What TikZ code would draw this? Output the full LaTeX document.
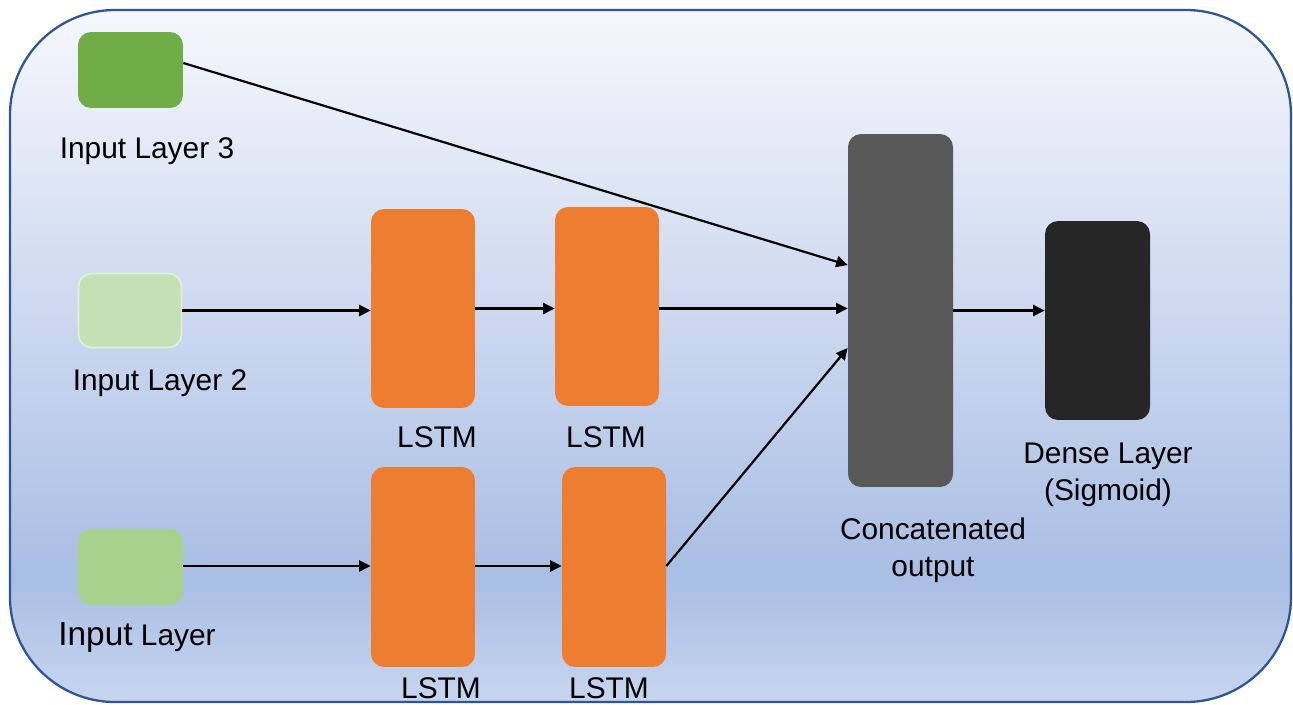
\documentclass[tikz,border=0pt]{standalone}
\usepackage{fontspec}
\setmainfont{Liberation Sans}
\usetikzlibrary{arrows.meta}

\definecolor{bgtop}{HTML}{F5F7FC}
\definecolor{bgmid}{HTML}{A9BEE4}
\definecolor{bgbot}{HTML}{C7D5EF}
\definecolor{frame}{HTML}{2F5597}
\definecolor{inthree}{HTML}{70AD47}
\definecolor{intwo}{HTML}{C5E0B4}
\definecolor{intwoedge}{HTML}{E2F0D9}
\definecolor{inone}{HTML}{A9D18E}
\definecolor{lstmorange}{HTML}{ED7D31}
\definecolor{catgray}{HTML}{595959}
\definecolor{densedark}{HTML}{262626}

% vertical background gradient (stops inside 25bp..75bp span the path)
\pgfdeclareverticalshading{panelshade}{100bp}{%
  color(0bp)=(bgbot); color(25bp)=(bgbot); color(34bp)=(bgmid);
  color(75bp)=(bgtop); color(100bp)=(bgtop)}

\tikzset{
  block/.style={rectangle, rounded corners=0.26cm, inner sep=0pt,
    minimum width=2.1cm, draw=none},
  smallblock/.style={block, minimum height=1.52cm},
  lstmblock/.style={block, fill=lstmorange, minimum width=2.08cm, minimum height=3.98cm},
  lbl/.style={inner sep=0pt, align=center, font=\fontsize{17}{20.8}\selectfont},
  link/.style={line width=1.25pt, -{Triangle[length=0.23cm, width=0.22cm]}},
}

\begin{document}
\begin{tikzpicture}[x=0.02cm, y=-0.02cm]
\useasboundingbox (0,0) rectangle (1293,704);

% background panel
\path[shading=panelshade, rounded corners=2.1cm] (10,10) rectangle (1291,702);
\draw[frame, line width=1.3pt, rounded corners=2.1cm] (10,10) rectangle (1291,702);

% input blocks
\node[smallblock, fill=inthree] (in3) at (130.5,70) {};
\node[smallblock, fill=intwo, draw=intwoedge, line width=1pt, minimum width=2.06cm, minimum height=1.48cm] (in2) at (130,310.5) {};
\node[smallblock, fill=inone] (in1) at (130.5,567) {};

% LSTM blocks
\node[lstmblock] (l1t) at (423,308.5) {};
\node[lstmblock] (l2t) at (607,306.5) {};
\node[lstmblock, minimum height=4cm] (l1b) at (423,567) {};
\node[lstmblock, minimum height=4cm] (l2b) at (614,567) {};

% merge and output blocks
\node[block, fill=catgray, minimum height=7.06cm] (cat) at (900.5,310.5) {};
\node[block, fill=densedark, minimum height=3.98cm] (dense) at (1097.5,320.5) {};

% labels
\node[lbl] (tin3) at (147,151) {Input Layer 3};
\node[lbl] (tin2) at (160,383) {Input Layer 2};
\node[lbl] (tin1) at (137,637) {{\fontsize{19}{20.8}\selectfont Input} Layer};
\node[lbl] (tl1t) at (437,437) {LSTM};
\node[lbl] (tl2t) at (606,437) {LSTM};
\node[lbl] (tl1b) at (441,688) {LSTM};
\node[lbl] (tl2b) at (609,688.5) {LSTM};
\node[lbl] (tcat) at (933,550) {Concatenated\\output};
\node[lbl] (tdense) at (1108,475) {Dense Layer\\(Sigmoid)};

% connections
\draw[link] ([yshift=0.14cm]in3.east) -- ([yshift=0.91cm]cat.west);
\draw[link] (in2.east) -- (in2.east -| l1t.west);
\draw[link] (l1t.east) -- (l1t.east -| l2t.west);
\draw[link] (l2t.east |- l1t.east) -- (cat.west |- l1t.east);
\draw[link] ([yshift=0.02cm]in1.east) -- ([yshift=0.02cm]in1.east -| l1b.west);
\draw[link] ([yshift=0.02cm]l1b.east) -- ([yshift=0.02cm]l1b.east -| l2b.west);
\draw[link] ([yshift=0.02cm]l2b.east) -- ([yshift=-0.75cm]cat.west);
\draw[link] (cat.east) -- (cat.east -| dense.west);
\end{tikzpicture}
\end{document}
